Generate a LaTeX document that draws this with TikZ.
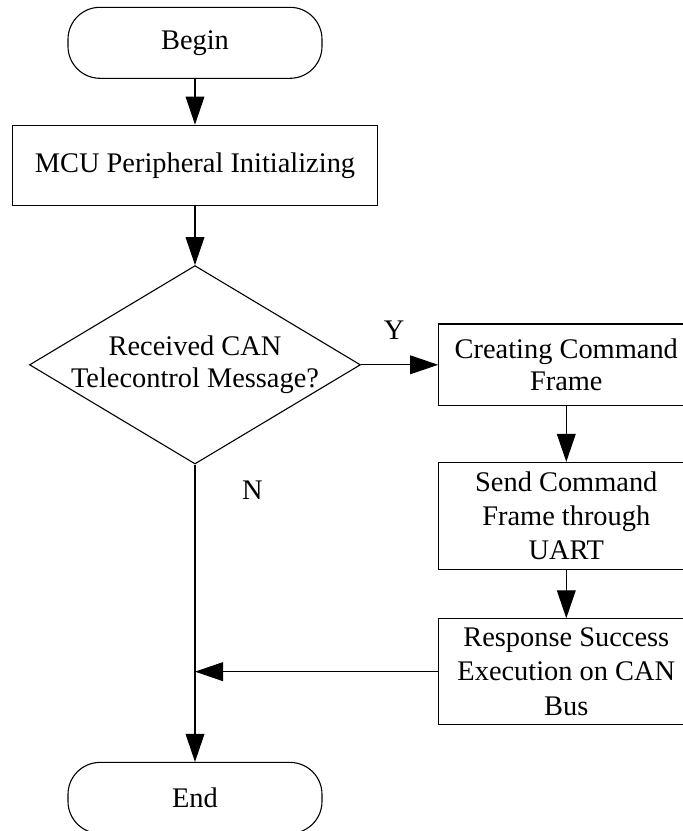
\documentclass[tikz,border=0pt]{standalone}
\usepackage{fontspec}
\setmainfont{Liberation Serif}
\usetikzlibrary{arrows.meta,positioning,shapes.geometric}

\begin{document}
\begin{tikzpicture}[
  font=\fontsize{14.2}{15.8}\selectfont,
  >={Triangle[length=14pt,width=9.4pt]},
  line width=0.55pt,
  term/.style={draw,rectangle,rounded corners=16pt,minimum width=127pt,minimum height=35.5pt,inner sep=0pt},
  box/.style={draw,align=center,inner sep=2pt},
  tallbox/.style={box,font=\fontsize{14.2}{17.1}\selectfont},
  decision/.style={draw,diamond,minimum width=165.5pt,minimum height=99.2pt,inner sep=0pt},
  flow/.style={->},
]
\useasboundingbox (0,0) rectangle (341.5pt,-415.5pt);
\clip (0,0) rectangle (341.5pt,-415.5pt);
% ---- main column ----
\node[term] (begin) at (97.5pt,-21.4pt) {Begin};
\node[box,minimum width=182.5pt,minimum height=40.2pt,below=22.85pt of begin] (init) {MCU Peripheral Initializing};
\node[decision,below=29.5pt of init,label={[align=center]center:Received CAN\\Telecontrol Message?}] (dec) {};
\node[term,below=148.65pt of dec] (end) {End};
% ---- Y branch, right column (cut by the page edge) ----
\node[box,minimum width=127.6pt,minimum height=40.8pt,right=38.55pt of dec] (cmd) {Creating Command\\Frame};
\node[tallbox,minimum width=127.6pt,minimum height=53.35pt,below=27.85pt of cmd] (send) {Send Command\\Frame through\\UART};
\node[tallbox,minimum width=127.6pt,minimum height=52.85pt,below=24.3pt of send] (resp) {Response Success\\Execution on CAN\\Bus};
\coordinate (join) at (dec.south |- resp.west);
% ---- connectors ----
\draw[flow] (begin) -- (init);
\draw[flow] (init) -- (dec.north);
\draw[flow] (dec.east) -- node[pos=0.43,above=9pt]{Y} (cmd.west);
\draw[flow] (cmd) -- (send);
\draw[flow] (send) -- (resp);
\draw[flow] (resp.west) -- (join);
\draw[flow] (dec.south) -- node[pos=0.085,right=20pt]{N} (end.north);
\end{tikzpicture}
\end{document}
